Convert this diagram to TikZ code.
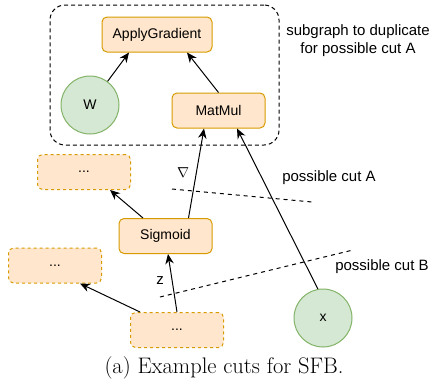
\documentclass[tikz,border=0pt]{standalone}
\usepackage{fontspec}
\setsansfont{Liberation Sans}
\usetikzlibrary{arrows.meta,   % For the arrow tips
                 positioning,   % For easy node-relative placements
               }
\definecolor{opfill}{HTML}{FFE6CC}
\definecolor{opline}{HTML}{D79B00}
\definecolor{varfill}{HTML}{D5E8D4}
\definecolor{varline}{HTML}{82B366}
\tikzstyle{op} = [rectangle, rounded corners=5pt, draw=opline, fill=opfill, line width=1pt, minimum width=93pt, minimum height=35pt, text centered, font=\sffamily\fontsize{14}{16}\selectfont]
\tikzstyle{dots} = [op, dash pattern=on 3pt off 3pt]
\tikzstyle{var} = [circle, draw=varline, fill=varfill, line width=1pt, minimum size=58pt, font=\sffamily\fontsize{14}{16}\selectfont]
\tikzstyle{flow} = [-{Stealth[length=10pt,width=8.5pt]}, line width=1pt]
\tikzstyle{cut} = [dash pattern=on 4pt off 4pt, line width=1pt]
\tikzstyle{group} = [rectangle, rounded corners=15pt, draw, dash pattern=on 4pt off 3pt, line width=1pt]
\tikzstyle{note} = [font=\sffamily\fontsize{15}{18}\selectfont, align=center]

\begin{document}
\begin{tikzpicture}[x=1pt, y=-1pt]
  \useasboundingbox (0,0) rectangle (430,389);

  \node (sub) [group, minimum width=229pt, minimum height=140pt] at (164.5,75) {};
  \node (sub_label) [note] at (358,41) {subgraph to duplicate\\for possible cut A};

  \node (grad) [op, minimum width=110pt] at (157,34.5) {ApplyGradient};
  \node (w) [var] at (90,105) {W};
  \node (mm) [op] at (218.5,110.5) {MatMul};

  \node (d1) [dots] at (84,172) {...};
  \node (sig) [op] at (165.5,236) {Sigmoid};
  \node (d2) [dots] at (55,265.5) {...};
  \node (d3) [dots] at (177,330) {...};
  \node (x) [var] at (323,318) {x};

  \draw[flow] (w) -- ([xshift=-28pt]grad.south);
  \draw[flow] (mm.north) -- ([xshift=30pt]grad.south);
  \draw[flow] ([xshift=23pt]sig.north) -- ([xshift=-14.5pt]mm.south);
  \draw[flow] (x.100) -- ([xshift=18.5pt]mm.south);
  \draw[flow] ([xshift=-22.5pt]sig.north) -- ([xshift=26pt]d1.south);
  \draw[flow] (d3.north) -- ([xshift=2.5pt]sig.south);
  \draw[flow] ([xshift=-37pt]d3.north) -- ([xshift=25pt]d2.south);

  \node (grad_label) [note] at (183,173) {$\nabla$};
  \node (z_label) [note] at (160,281) {z};

  % the two cuts
  \coordinate (cutA_l) at (172,189);
  \coordinate (cutA_r) at (312,202);
  \draw[cut] (cutA_l) -- (cutA_r);
  \node (cutA) [note] at (329,178) {possible cut A};

  \coordinate (cutB_l) at (160,297);
  \coordinate (cutB_r) at (353,250);
  \draw[cut] (cutB_l) -- (cutB_r);
  \node (cutB) [note] at (382,267) {possible cut B};

  \node (caption) [font=\fontsize{22.5}{26}\selectfont] at (224,368) {(a) Example cuts for SFB.};
\end{tikzpicture}
\end{document}
